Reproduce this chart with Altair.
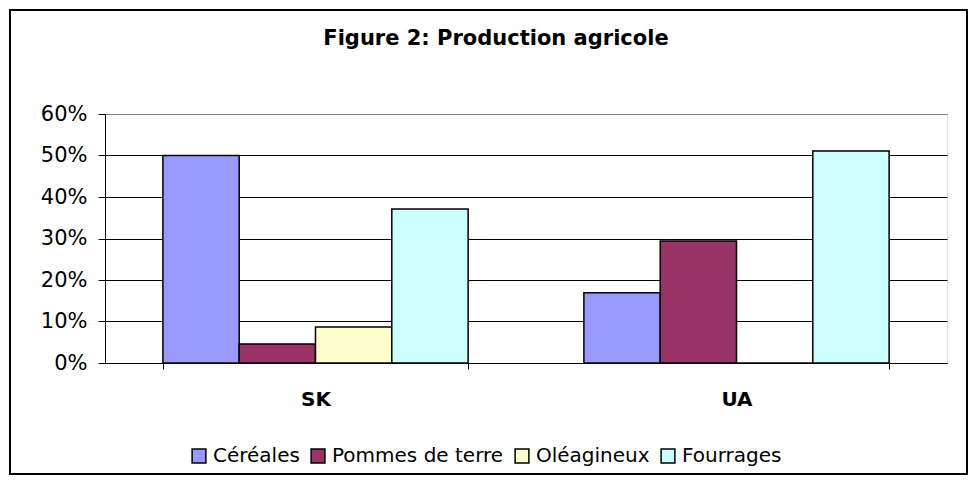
import altair as alt
import pandas as pd

countries = ["SK", "UA"]
crops = ["Céréales", "Pommes de terre", "Oléagineux", "Fourrages"]
colors = ["#9999FF", "#993366", "#FFFFCC", "#CCFFFF"]
sk_values = [0.500, 0.046, 0.087, 0.371]
ua_values = [0.169, 0.294, 0.0, 0.511]
y_ticks = [0, 0.1, 0.2, 0.3, 0.4, 0.5, 0.6]

rows = []
for c, vals in zip(countries, [sk_values, ua_values]):
    for crop, v in zip(crops, vals):
        rows.append({"country": c, "crop": crop, "value": v})
df = pd.DataFrame(rows)

FONT = "DejaVu Sans"

bars = alt.Chart(df).mark_bar(stroke="black", strokeWidth=1.5).encode(
    x=alt.X("country:N", sort=countries, title=None,
            scale=alt.Scale(paddingInner=0.275, paddingOuter=0.1375),
            axis=alt.Axis(labelAngle=0, labelFontWeight="bold", labelFontSize=20,
                          labelFont=FONT, labelColor="black", labelPadding=20,
                          tickBand="extent", tickSize=6, tickColor="black",
                          domainColor="black", domainWidth=1)),
    xOffset=alt.XOffset("crop:N", sort=crops,
                        scale=alt.Scale(paddingInner=0, paddingOuter=0)),
    y=alt.Y("value:Q", title=None, scale=alt.Scale(domain=[0, 0.6], nice=False),
            axis=alt.Axis(values=y_ticks, format=".0%", labelFontSize=21, labelFont=FONT,
                          labelColor="black", labelPadding=11, tickSize=7, tickColor="black",
                          domainColor="black", grid=True,
                          gridColor={"condition": {"test": "datum.value >= 0.6", "value": "#808080"},
                                     "value": "black"},
                          gridWidth=1)),
    color=alt.Color("crop:N", sort=crops, scale=alt.Scale(domain=crops, range=colors),
                    legend=alt.Legend(title=None, orient="none", direction="horizontal",
                                      legendX=84, legendY=332,
                                      symbolType="square", symbolSize=190,
                                      symbolStrokeColor="black", symbolStrokeWidth=1.5,
                                      symbolOpacity=1, labelLimit=0,
                                      labelFontSize=20, labelFont=FONT, labelColor="black",
                                      labelOffset=4, columnPadding=8)),
)

border = alt.Chart(pd.DataFrame({"k": [0]})).mark_rect(
    fillOpacity=0, stroke="black", strokeWidth=2
).encode(
    x=alt.value(-95), x2=alt.value(862),
    y=alt.value(-104), y2=alt.value(360),
)

chart = alt.layer(bars, border).properties(
    width=842, height=249,
    padding={"left": 97, "top": 106, "right": 21, "bottom": 121},
    autosize=alt.AutoSizeParams(type="none"),
    title=alt.TitleParams("Figure 2: Production agricole", fontSize=21, fontWeight="bold",
                          font=FONT, color="black", anchor="middle", baseline="alphabetic",
                          dx=-30, offset=-57),
).configure_view(stroke="#808080", strokeWidth=1.5).configure(background="white")

chart.save("out.html", embed_options={"renderer": "svg", "actions": False})
